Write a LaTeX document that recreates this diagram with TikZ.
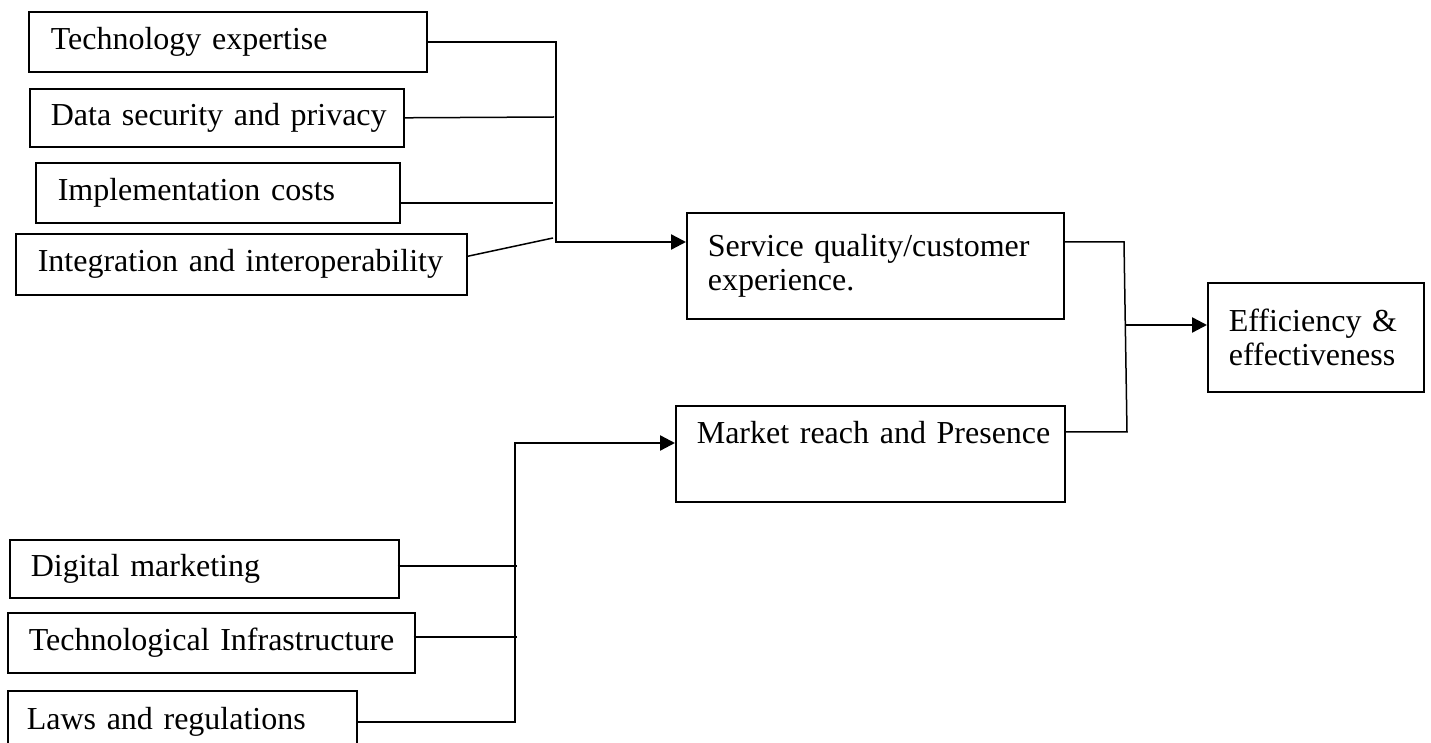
\documentclass[tikz,border=0pt]{standalone}
\usepackage{fontspec}
\setmainfont[WordSpace=0.9]{Liberation Serif}
\usetikzlibrary{arrows.meta,calc}
\begin{document}
\begin{tikzpicture}[x=0.5pt,y=-0.5pt,
  box/.style={draw,line width=0.8pt,rectangle,anchor=north west,align=left,
    inner ysep=0pt,font=\fontsize{16}{16.8}\selectfont},
  thin/.style={line width=0.75pt},
  thick/.style={line width=1.2pt},
  arr/.style={thick,-{Triangle[length=7.5pt,width=7.5pt]}}]
\useasboundingbox (0,0) rectangle (1431,743);
\clip (0,0) rectangle (1431,743);
% upper group
\node[box,inner xsep=11pt,text width=177pt,minimum height=30pt] (tech) at (28,11) {\mbox{Technology expertise}};
\node[box,inner xsep=10.5pt,text width=166pt,minimum height=29pt] (data) at (29,88) {\mbox{Data security and privacy}};
\node[box,inner xsep=11pt,text width=160pt,minimum height=30pt] (impl) at (35,162) {\mbox{Implementation costs}};
\node[box,inner xsep=11pt,text width=203.5pt,minimum height=30.5pt] (integ) at (15,233) {\mbox{Integration and interoperability}};
% middle
\node[box,inner xsep=10.5pt,text width=167.5pt,minimum height=53pt] (service) at (686,212) {\mbox{Service quality/customer}\\experience.};
\node[box,inner xsep=10.5pt,text width=173.5pt,minimum height=48pt] (market) at (675,405) {\mbox{Market reach and Presence}\\\strut};
\node[box,inner xsep=10.5pt,text width=87pt,minimum height=54.5pt] (eff) at (1207,282) {Efficiency \&\\effectiveness\\[-4pt]};
% lower group
\node[box,inner xsep=10.5pt,text width=173.5pt,minimum height=29pt] (digital) at (9,539) {\mbox{Digital marketing}};
\node[box,inner xsep=10.5pt,text width=182.5pt,minimum height=30pt] (ti) at (7,612) {\mbox{Technological Infrastructure}};
\node[box,inner xsep=9.5pt,text width=155.5pt,minimum height=31pt] (laws) at (7,690) {\mbox{Laws and regulations}};
% upper connectors
\coordinate (j1) at (556,242);
\coordinate (s2) at (554,117);
\coordinate (s3) at (553,203);
\coordinate (s4) at (553,238);
\draw[arr] (tech.east) -| (j1) -- (j1 -| service.west);
\draw[thin] (data.east) -- (s2);
\draw[thin] (impl.east |- s3) -- (s3);
\draw[thin] ($(integ.east)+(0,-8)$) -- (s4);
% lower connectors
\coordinate (j2) at (515,443);
\coordinate (t1) at (517,566);
\coordinate (t2) at (517,637);
\draw[arr] (laws.east) -| (j2) -- (j2 -| market.west);
\draw[thin] ([xshift=-1pt]digital.east |- t1) -- (t1);
\draw[thin] ([xshift=-1pt]ti.east |- t2) -- (t2);
% right connectors
\coordinate (k1) at (1124,242);
\coordinate (k2) at (1127,432);
\coordinate (k3) at (1125,325);
\draw[thin] (service.east |- k1) -- (k1) -- (k2) -- (market.east |- k2);
\draw[arr] (k3) -- (k3 -| eff.west);
\end{tikzpicture}
\end{document}
